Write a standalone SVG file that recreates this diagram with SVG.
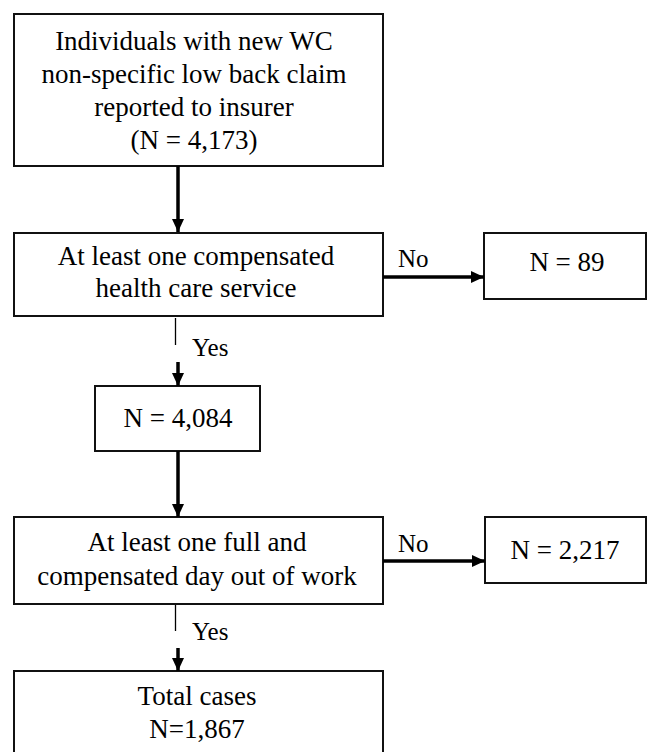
<svg xmlns="http://www.w3.org/2000/svg" width="647" height="752" viewBox="0 0 647 752">
<defs>
<style>
.box{fill:#fff;stroke:#111;stroke-width:2}
.t{font-family:"Liberation Serif","Times New Roman",serif;font-size:27px;fill:#000;text-anchor:middle}
.lbl{font-family:"Liberation Serif","Times New Roman",serif;font-size:25px;fill:#000}
.thick{stroke:#000;stroke-width:3.5;fill:none}
.thin{stroke:#000;stroke-width:1.3;fill:none}
</style>
<marker id="ah" markerUnits="userSpaceOnUse" markerWidth="14" markerHeight="14" viewBox="0 0 14 14" refX="13" refY="7" orient="auto">
<path d="M0,1 L13,7 L0,13 Z" fill="#000"/>
</marker>
</defs>
<rect x="0" y="0" width="647" height="752" fill="#fff"/>
<g id="n1">
<rect class="box" x="14" y="14" width="369" height="152"/>
<text class="t" x="194" y="50">Individuals with new WC</text>
<text class="t" x="194" y="83">non-specific low back claim</text>
<text class="t" x="194" y="116">reported to insurer</text>
<text class="t" x="194" y="149">(N = 4,173)</text>
</g>
<g id="n2">
<rect class="box" x="14" y="233" width="369" height="83"/>
<text class="t" x="196" y="265">At least one compensated</text>
<text class="t" x="196" y="297">health care service</text>
</g>
<g id="n3">
<rect class="box" x="484" y="233" width="162" height="66"/>
<text class="t" x="567" y="271">N = 89</text>
</g>
<g id="n4">
<rect class="box" x="95" y="386" width="165" height="65"/>
<text class="t" x="178" y="427">N = 4,084</text>
</g>
<g id="n5">
<rect class="box" x="14" y="517" width="369" height="87"/>
<text class="t" x="197" y="551">At least one full and</text>
<text class="t" x="197" y="585">compensated day out of work</text>
</g>
<g id="n6">
<rect class="box" x="485" y="517" width="161" height="66"/>
<text class="t" x="565" y="559">N = 2,217</text>
</g>
<g id="n7">
<rect class="box" x="14" y="671" width="369" height="90"/>
<text class="t" x="197" y="705">Total cases</text>
<text class="t" x="197" y="738">N=1,867</text>
</g>
<g id="connectors">
<line class="thick" x1="178" y1="166" x2="178" y2="232" marker-end="url(#ah)"/>
<line class="thick" x1="383" y1="277" x2="484" y2="277" marker-end="url(#ah)"/>
<text class="lbl" x="398" y="267">No</text>
<line class="thin" x1="175.5" y1="318" x2="175.5" y2="345"/>
<text class="lbl" x="192" y="356">Yes</text>
<line class="thick" x1="178" y1="362" x2="178" y2="386" marker-end="url(#ah)"/>
<line class="thick" x1="178" y1="451" x2="178" y2="517" marker-end="url(#ah)"/>
<line class="thick" x1="383" y1="561" x2="485" y2="561" marker-end="url(#ah)"/>
<text class="lbl" x="398" y="552">No</text>
<line class="thin" x1="175.5" y1="605" x2="175.5" y2="631"/>
<text class="lbl" x="192" y="640">Yes</text>
<line class="thick" x1="178" y1="648" x2="178" y2="671" marker-end="url(#ah)"/>
</g>
</svg>
